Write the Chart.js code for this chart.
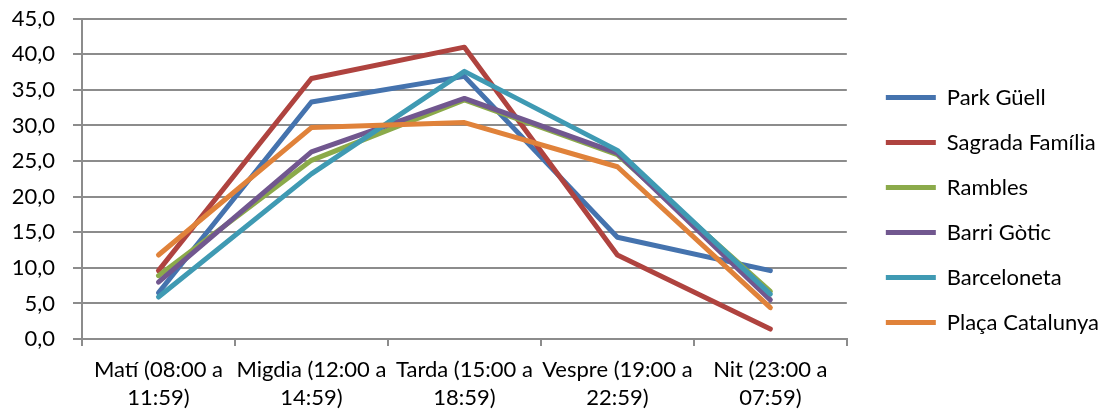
<!DOCTYPE html>
<html>
<head>
<meta charset="utf-8">
<script src="https://cdn.jsdelivr.net/npm/chart.js@4/dist/chart.umd.min.js"></script>
<style>
    html, body { margin: 0; padding: 0; background: #fff; }
    #wrap { width: 1105px; height: 414px; position: relative; }
</style>
</head>
<body>
<div id="wrap"><canvas id="chart"></canvas></div>
<script>
// Chart data
const categories = [
    ['Matí (08:00 a', '11:59)'],
    ['Migdia (12:00 a', '14:59)'],
    ['Tarda (15:00 a', '18:59)'],
    ['Vespre (19:00 a', '22:59)'],
    ['Nit (23:00 a', '07:59)']
];

const parkGuell = [6.5, 33.3, 36.9, 14.3, 9.6];
const sagradaFamilia = [9.6, 36.6, 41.0, 11.8, 1.4];
const rambles = [8.9, 25.1, 33.6, 25.9, 6.7];
const barriGotic = [8.0, 26.3, 33.8, 26.1, 5.5];
const barceloneta = [5.9, 23.2, 37.6, 26.5, 6.3];
const placaCatalunya = [11.8, 29.7, 30.4, 24.2, 4.4];

const seriesNames = ['Park Güell', 'Sagrada Família', 'Rambles', 'Barri Gòtic', 'Barceloneta', 'Plaça Catalunya'];
const seriesData = [parkGuell, sagradaFamilia, rambles, barriGotic, barceloneta, placaCatalunya];
const seriesColors = ['#4573AE', '#AF433F', '#8BAA4A', '#71578F', '#3F9AB3', '#E0823A'];

const FONT = 'Lato, "Open Sans", sans-serif';
const gridColor = '#8c8c8c';

const datasets = seriesNames.map((name, i) => ({
    label: name,
    data: seriesData[i],
    borderColor: seriesColors[i],
    backgroundColor: seriesColors[i],
    borderWidth: 5,
    borderCapStyle: 'round',
    borderJoinStyle: 'round',
    pointRadius: 0,
    tension: 0,
    order: -i // last series drawn on top, like the original
}));

// nudge the legend a bit to the right, away from the plot
const legendShift = {
    id: 'legendShift',
    afterLayout(chart) {
        if (chart.legend) {
            chart.legend.left += 16;
            chart.legend.right += 16;
        }
    }
};

const ctx = document.getElementById('chart').getContext('2d');
new Chart(ctx, {
    type: 'line',
    data: { labels: categories, datasets: datasets },
    plugins: [legendShift],
    options: {
        responsive: true,
        maintainAspectRatio: false,
        animation: false,
        layout: { padding: { top: 6, right: 12, bottom: 0, left: 0 } },
        plugins: {
            tooltip: { enabled: false },
            legend: {
                position: 'right',
                align: 'center',
                labels: {
                    usePointStyle: true,
                    pointStyle: 'line',
                    pointStyleWidth: 50,
                    boxHeight: 5,
                    padding: 23,
                    color: '#000',
                    font: { family: FONT, size: 22 },
                    sort: (a, b) => a.datasetIndex - b.datasetIndex
                }
            }
        },
        scales: {
            x: {
                offset: true,
                grid: {
                    offset: true,
                    drawOnChartArea: false,
                    drawTicks: true,
                    tickLength: 7,
                    color: gridColor,
                    lineWidth: 2
                },
                border: { color: gridColor, width: 2 },
                ticks: {
                    color: '#000',
                    padding: 10,
                    maxRotation: 0,
                    autoSkip: false,
                    font: { family: FONT, size: 22, lineHeight: 1.27 }
                },
                afterFit: function(scale) { scale.height = 75; }
            },
            y: {
                min: 0,
                max: 45,
                grid: {
                    color: gridColor,
                    lineWidth: 2,
                    tickLength: 9
                },
                border: { color: gridColor, width: 2 },
                ticks: {
                    stepSize: 5,
                    color: '#000',
                    padding: 18,
                    font: { family: FONT, size: 22 },
                    callback: v => v.toFixed(1).replace('.', ',')
                },
                afterFit: function(scale) {
                    scale.width = 82;
                    scale.paddingTop = 18.7;
                    scale.paddingBottom = 0;
                }
            }
        }
    }
});
</script>
</body>
</html>
